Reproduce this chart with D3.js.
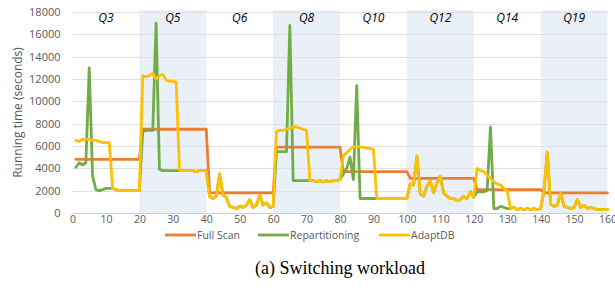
<!DOCTYPE html>
<html>
<head>
<meta charset="utf-8">
<script src="https://cdn.jsdelivr.net/npm/d3@7"></script>
<style>
  html, body { margin: 0; padding: 0; background: #fff; }
  svg { display: block; }
</style>
</head>
<body>
<svg id="chart" width="615" height="297"></svg>
<script>
// ---------------- data ----------------
const xTicks = [0, 10, 20, 30, 40, 50, 60, 70, 80, 90, 100, 110, 120, 130, 140, 150, 160];
const yTicks = [0, 2000, 4000, 6000, 8000, 10000, 12000, 14000, 16000, 18000];
const queryLabels = ["Q3", "Q5", "Q6", "Q8", "Q10", "Q12", "Q14", "Q19"];
const queryStarts = [0, 20, 40, 60, 80, 100, 120, 140];
const queryEnds   = [20, 40, 60, 80, 100, 120, 140, 160];
const shadedQueries = ["Q5", "Q8", "Q12", "Q19"];
const seriesNames = ["Full Scan", "Repartitioning", "AdaptDB"];

const fullScan = [
  4800,4800,4800,4800,4800,4800,4800,4800,4800,4800,4800,4800,4800,4800,4800,4800,4800,4800,4800,4800,
  7500,7500,7500,7500,7500,7500,7500,7500,7500,7500,7500,7500,7500,7500,7500,7500,7500,7500,7500,7500,
  1800,1800,1800,1800,1800,1800,1800,1800,1800,1800,1800,1800,1800,1800,1800,1800,1800,1800,1800,1800,
  5900,5900,5900,5900,5900,5900,5900,5900,5900,5900,5900,5900,5900,5900,5900,5900,5900,5900,5900,5900,
  3700,3700,3700,3700,3700,3700,3700,3700,3700,3700,3700,3700,3700,3700,3700,3700,3700,3700,3700,3700,
  3100,3100,3100,3100,3100,3100,3100,3100,3100,3100,3100,3100,3100,3100,3100,3100,3100,3100,3100,3100,
  2100,2100,2100,2100,2100,2100,2100,2100,2100,2100,2100,2100,2100,2100,2100,2100,2100,2100,2100,2100,
  1800,1800,1800,1800,1800,1800,1800,1800,1800,1800,1800,1800,1800,1800,1800,1800,1800,1800,1800,1800
];
const repartitioning = [
  4100,4500,4300,4500,13000,3300,2100,2000,2100,2200,2200,2200,2100,2000,2000,2000,2000,2000,2000,2000,
  7300,7400,7400,7400,17000,3900,3800,3800,3800,3800,3800,3800,3800,3800,3800,3800,3700,3800,3800,3800,
  1500,1300,1500,3500,1600,1400,600,500,400,600,500,700,1200,500,700,1600,700,900,500,600,
  5500,5500,5500,5500,16800,2900,2900,2900,2900,2900,2900,2900,2800,2900,2800,2900,2800,2900,2900,3000,
  3500,4000,5000,3000,11400,1300,1300,1300,1300,1300,1300,1300,1300,1300,1300,1300,1300,1300,1300,1300,
  2600,2500,5100,1700,1500,2400,2900,1800,2700,3300,1800,1500,1300,1300,1100,1200,1500,1300,1900,1400,
  1900,1900,1900,2000,7700,400,400,600,500,400,400,500,300,400,300,400,300,400,300,400,
  2000,5400,800,600,700,1800,600,500,400,500,1200,500,700,400,500,400,300,300,300,300
];
const adaptDB = [
  6500,6400,6600,6600,6600,6500,6500,6400,6300,6300,6300,2200,2100,2000,2000,2000,2000,2000,2000,2000,
  12300,12200,12300,12500,12000,12300,12400,11900,11800,11800,11700,3800,3800,3800,3800,3800,3700,3800,3800,3800,
  1500,1300,1500,3500,1600,1400,600,500,400,600,500,700,1200,500,700,1600,700,900,500,600,
  7300,7400,7400,7500,7600,7700,7700,7600,7500,7400,2900,2900,2800,2900,2800,2900,2800,2900,2900,3000,
  5100,5400,5700,5900,6000,5900,5900,5800,5800,5700,1300,1300,1300,1300,1300,1300,1300,1300,1300,1300,
  2600,2500,5100,1700,1500,2400,2900,1800,2700,3300,1800,1500,1300,1300,1100,1200,1500,1300,1900,1400,
  4000,3800,3700,3400,3100,2800,2600,2500,2200,2000,400,500,300,400,300,400,300,400,300,400,
  2000,5400,800,600,700,1800,600,500,400,500,1200,500,700,400,500,400,300,300,300,300
];
const seriesColors = ["#ED7D31", "#70AD47", "#FFC000"];

// ---------------- chart ----------------
const svg = d3.select("#chart");
const margin = { left: 72.5, right: 7.5, top: 12, bottom: 84 };
const W = 615, H = 297;
const x = d3.scaleLinear().domain([0, 160]).range([margin.left, W - margin.right]);
const y = d3.scaleLinear().domain([0, 18000]).range([H - margin.bottom, margin.top]);

const labelColor = "#595959";
const sans = "'Open Sans', 'Noto Sans', sans-serif";

// shaded bands
const segs = queryLabels.map((q, i) => ({ q, s: queryStarts[i], e: queryEnds[i] }));
svg.append("g").selectAll("rect")
  .data(segs.filter(d => shadedQueries.includes(d.q)))
  .join("rect")
  .attr("x", d => x(d.s))
  .attr("width", d => x(d.e) - x(d.s))
  .attr("y", y(18000) - 2)
  .attr("height", y(0) - y(18000) + 2)
  .attr("fill", "#EAF0F8");

// gridlines
svg.append("g").selectAll("line")
  .data(yTicks)
  .join("line")
  .attr("x1", x(0)).attr("x2", x(160))
  .attr("y1", d => Math.round(y(d)) + 0.5).attr("y2", d => Math.round(y(d)) + 0.5)
  .attr("stroke", d => d === 0 ? "#D0D0D0" : "#E0E0E0")
  .attr("stroke-width", 1);

// y axis labels
const yAxis = d3.axisLeft(y).tickValues(yTicks).tickSize(0).tickPadding(0).tickFormat(d3.format("d"));
const gy = svg.append("g").attr("transform", `translate(${x(0) - 12},0)`).call(yAxis);
gy.select(".domain").remove();
gy.selectAll("text").attr("fill", labelColor).style("font-family", sans).style("font-size", "11px");

// x axis labels
const xAxis = d3.axisBottom(x).tickValues(xTicks).tickSize(0).tickPadding(0).tickFormat(d3.format("d"));
const gx = svg.append("g").attr("transform", `translate(0,${y(0) + 3})`).call(xAxis);
gx.select(".domain").remove();
gx.selectAll("text").attr("fill", labelColor).style("font-family", sans).style("font-size", "10.5px");

// y axis title
svg.append("text")
  .attr("transform", `translate(22,${(y(0) + y(18000)) / 2}) rotate(-90)`)
  .attr("text-anchor", "middle")
  .attr("fill", labelColor)
  .style("font-family", sans).style("font-size", "12px")
  .text("Running time (seconds)");

// query labels
svg.append("g").selectAll("text")
  .data(segs)
  .join("text")
  .attr("x", d => x((d.s + d.e) / 2))
  .attr("y", y(18000) + 10)
  .attr("text-anchor", "middle")
  .attr("fill", "#000")
  .style("font-family", sans).style("font-size", "12px").style("font-style", "italic")
  .text(d => d.q);

// lines
const allSeries = [fullScan, repartitioning, adaptDB];
const line = d3.line().x((d, i) => x(i + 1)).y(d => y(d));
svg.append("g").selectAll("path")
  .data(allSeries)
  .join("path")
  .attr("d", d => line(d))
  .attr("fill", "none")
  .attr("stroke", (d, i) => seriesColors[i])
  .attr("stroke-width", 2.8)
  .attr("stroke-linejoin", "round")
  .attr("stroke-linecap", "round");

// legend
const legendX = [165, 258, 379];
const lg = svg.append("g").selectAll("g")
  .data(seriesNames)
  .join("g")
  .attr("transform", (d, i) => `translate(${legendX[i]},235)`);
lg.append("line")
  .attr("x1", 0).attr("x2", 31).attr("y1", 0).attr("y2", 0)
  .attr("stroke", (d, i) => seriesColors[i]).attr("stroke-width", 2.8);
lg.append("text")
  .attr("x", 32).attr("y", 4)
  .attr("fill", labelColor)
  .style("font-family", sans).style("font-size", "10.5px")
  .text(d => d);

// caption
svg.append("text")
  .attr("x", 340).attr("y", 274)
  .attr("text-anchor", "middle")
  .attr("fill", "#000")
  .style("font-family", "'Liberation Serif', 'Times New Roman', serif")
  .style("font-size", "18px")
  .text("(a) Switching workload");
</script>
</body>
</html>
